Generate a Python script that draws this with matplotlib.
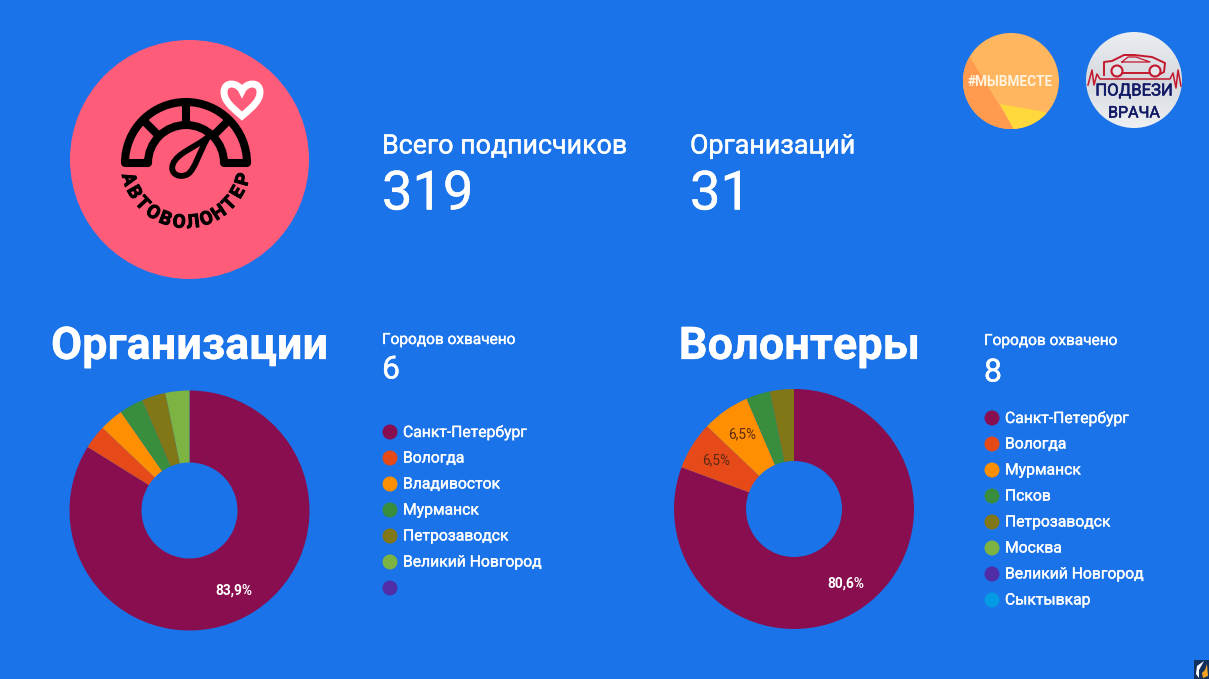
import numpy as np
import matplotlib
matplotlib.use('Agg')
import matplotlib.pyplot as plt
import matplotlib.patheffects as pe
from matplotlib.colors import LinearSegmentedColormap
from matplotlib.patches import Circle, Polygon, PathPatch, Arc, Rectangle
from matplotlib.path import Path

plt.rcParams['font.family'] = ['Roboto', 'DejaVu Sans']

W, H = 1209, 679
BG = '#1a73e8'
PINK = '#ff5c7a'

org_cities = ['Санкт-Петербург', 'Вологда', 'Владивосток', 'Мурманск', 'Петрозаводск', 'Великий Новгород', '']
org_values = [26, 1, 1, 1, 1, 1]
vol_cities = ['Санкт-Петербург', 'Вологда', 'Мурманск', 'Псков', 'Петрозаводск', 'Москва', 'Великий Новгород', 'Сыктывкар']
vol_values = [25, 2, 2, 1, 1]

org_colors = ['#880e4f', '#e64a19', '#ff8f00', '#388e3c', '#827717', '#7cb342', '#512da8']
vol_colors = ['#880e4f', '#e64a19', '#ff8f00', '#388e3c', '#827717', '#7cb342', '#512da8', '#039be5']

subscribers = '319'
organizations = '31'
org_city_count = '6'
vol_city_count = '8'
logo_word = 'АВТОВОЛОНТЕР'


def pct_label(p):
    if p < 5:
        return ''
    return f'{p:.1f}%'.replace('.', ',')


def stroke(width, color):
    return [pe.withStroke(linewidth=width, foreground=color)]


def donut(values, colors, cx, cy, r=120):
    ax = fig.add_axes([(cx - r) / W, 1 - (cy + r) / H, 2 * r / W, 2 * r / H])
    wedges, texts, autotexts = ax.pie(values, colors=colors, startangle=90, counterclock=False, radius=1,
                                      wedgeprops=dict(width=0.6, linewidth=0), autopct=pct_label, pctdistance=0.76)
    ax.set_xlim(-1, 1)
    ax.set_ylim(-1, 1)
    for i, t in enumerate(autotexts):
        if i == 0:
            t.set_color('white')
            t.set_fontweight('bold')
            t.set_fontsize(9.9)
        else:
            t.set_color('#5a2a12')
            t.set_fontsize(9.8)


def legend(cities, colors, x, y0, dy=26):
    for i, city in enumerate(cities):
        y = y0 + i * dy
        bg.add_patch(Circle((x, y), 7.5, color=colors[i], lw=0))
        bg.text(x + 13, y - 1.5, city, color='white', fontsize=11.3, va='center_baseline', ha='left',
                path_effects=stroke(0.25, 'white'))


fig = plt.figure(figsize=(W / 100, H / 100), dpi=100, facecolor=BG)
bg = fig.add_axes([0, 0, 1, 1])
bg.axis('off')

# main logo
bg.add_patch(Circle((189.5, 159.5), 119.5, color=PINK, lw=0))
gx, gy = 186, 163
bg.add_patch(Arc((gx, gy), 122, 122, theta1=180, theta2=360, color='black', lw=5.8))
bg.add_patch(Arc((gx, gy), 76, 76, theta1=180, theta2=360, color='black', lw=5.8))
for a in [135, 90, 45]:
    ca, sa = np.cos(np.radians(a)), np.sin(np.radians(a))
    bg.plot([gx + 38 * ca, gx + 61 * ca], [gy - 38 * sa, gy - 61 * sa], color='black', lw=5.8, solid_capstyle='butt')
for s in [-1, 1]:
    bg.plot([gx + s * 38, gx + s * 61], [gy, gy], color='black', lw=5.8, solid_capstyle='round')

# needle
needle = Path([(208, 137), (196, 147), (177, 153), (173, 164), (169, 174), (180, 179), (188, 174), (195, 169), (198, 155), (208, 137)],
              [Path.MOVETO] + [Path.CURVE4] * 9)
bg.add_patch(PathPatch(needle, fc=PINK, ec='black', lw=4.2, joinstyle='round'))

# heart
heart = Path([(242, 116), (230, 106), (224, 100), (224, 92), (224, 81), (238, 82), (242, 91),
              (246, 82), (260, 81), (260, 92), (260, 100), (254, 106), (242, 116), (242, 116)],
             [Path.MOVETO] + [Path.CURVE4] * 12 + [Path.CLOSEPOLY])
bg.add_patch(PathPatch(heart, fc=PINK, ec='white', lw=5, joinstyle='miter', zorder=3))

# word on the arc
angles = np.linspace(74, -74, len(logo_word))
for ch, a in zip(logo_word, angles):
    px = gx - 60 * np.sin(np.radians(a))
    py = gy + 60 * np.cos(np.radians(a))
    bg.text(px, py, ch, rotation=-a, rotation_mode='anchor', ha='center', va='center', color='black',
            fontsize=13.5, fontweight='bold', path_effects=stroke(0.7, 'black'))

# #мывместе badge
c1 = Circle((1011, 81), 48, color='#ffb65e', lw=0)
bg.add_patch(c1)
p1 = Polygon([(960, 55), (970, 57), (990, 90), (1015, 130), (960, 130)], color='#ff9a4f', lw=0)
bg.add_patch(p1)
p1.set_clip_path(c1)
p2 = Polygon([(1000, 104), (1045, 112), (1060, 130), (1014, 130)], color='#ffd93b', lw=0)
bg.add_patch(p2)
p2.set_clip_path(c1)
bg.text(1010, 81.5, '#МЫВМЕСТЕ', color='#fff3df', fontsize=9.8, fontweight='bold', ha='center', va='center')

# подвези врача badge
grad = np.linspace(0, 1, 96)[:, None]
im = bg.imshow(grad, extent=(1086, 1182, 128, 32), aspect='auto', zorder=1,
               cmap=LinearSegmentedColormap.from_list('g', ['#eceef1', '#d5d9df', '#eef0f2']))
c2 = Circle((1134, 80), 48, fc='none', lw=0, zorder=1)
bg.add_patch(c2)
im.set_clip_path(c2)
red = '#c4172c'
car_x = [1104, 1104, 1112, 1124, 1134, 1152, 1165, 1164, 1160]
car_y = [75, 62, 61, 55, 55, 57, 63, 72, 74]
bg.plot(car_x, car_y, color=red, lw=1.4, zorder=2)
bg.plot([1118, 1148], [73, 73], color=red, lw=1.4, zorder=2)
bg.plot([1122, 1128, 1136, 1150, 1122], [62, 57, 57, 62, 62], color=red, lw=0.9, zorder=2)
for cx in [1117, 1155]:
    bg.add_patch(Circle((cx, 71), 5.5, fc='#e4e6ea', ec=red, lw=1.5, zorder=2))
ecg_x = [1088, 1092, 1094, 1097, 1100, 1108, 1160, 1170, 1173, 1176, 1178, 1181]
ecg_y = [85, 70, 85, 74, 79, 79, 79, 79, 73, 88, 70, 86]
bg.plot(ecg_x, ecg_y, color=red, lw=1.1, zorder=2)
bg.text(1134, 91, 'ПОДВЕЗИ', color='#121a66', fontsize=12, ha='center', va='center', zorder=3,
        path_effects=stroke(0.4, '#121a66'))
bg.text(1134, 113, 'ВРАЧА', color='#121a66', fontsize=11.5, ha='center', va='center', zorder=3,
        path_effects=stroke(0.4, '#121a66'))

# headline numbers
thin = stroke(0.3, 'white')
bg.text(382, 146, 'Всего подписчиков', color='white', fontsize=19.3, va='center', ha='left', path_effects=thin)
bg.text(382, 195, subscribers, color='white', fontsize=39, va='center', ha='left', path_effects=thin)
bg.text(690, 146, 'Организаций', color='white', fontsize=19.3, va='center', ha='left', path_effects=thin)
bg.text(690, 195, organizations, color='white', fontsize=39, va='center', ha='left', path_effects=thin)

# section blocks
bg.text(189.5, 347, 'Организации', color='white', fontsize=32.5, fontweight='bold', va='center', ha='center',
        path_effects=stroke(0.2, 'white'))
bg.text(382, 340, 'Городов охвачено', color='white', fontsize=11.1, va='center', ha='left',
        path_effects=stroke(0.25, 'white'))
bg.text(382, 370, org_city_count, color='white', fontsize=23, va='center', ha='left', path_effects=thin)
bg.text(799.5, 347, 'Волонтеры', color='white', fontsize=32.5, fontweight='bold', va='center', ha='center',
        path_effects=stroke(0.2, 'white'))
bg.text(984, 341, 'Городов охвачено', color='white', fontsize=11.1, va='center', ha='left',
        path_effects=stroke(0.25, 'white'))
bg.text(984, 373, vol_city_count, color='white', fontsize=23, va='center', ha='left', path_effects=thin)

legend(org_cities, org_colors, 390, 432)
legend(vol_cities, vol_colors, 992, 418)

# corner icon
bg.add_patch(Rectangle((1194, 660), 15, 19, color='#12305e', lw=0))
bg.add_patch(Polygon([(1204, 661), (1197, 666), (1196, 674), (1199, 678), (1199, 670)], color='white', lw=0))
bg.add_patch(Polygon([(1207, 664), (1205, 670), (1202, 673), (1203, 678), (1208, 676)], color='#f5a623', lw=0))

bg.set_xlim(0, W)
bg.set_ylim(H, 0)

donut(org_values, org_colors[:len(org_values)], 189.5, 510.5)
donut(vol_values, vol_colors[:len(vol_values)], 794, 509)

plt.savefig('out.png', dpi=100, facecolor=BG)
